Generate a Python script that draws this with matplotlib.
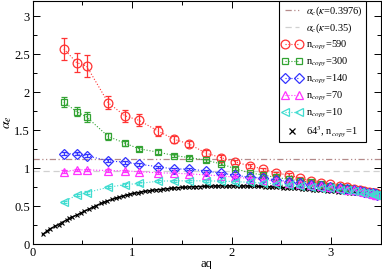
import matplotlib
matplotlib.use("Agg")
import matplotlib.pyplot as plt
from matplotlib.lines import Line2D
from matplotlib.legend_handler import HandlerLine2D
import numpy as np

plt.rcParams['font.family'] = ['Liberation Serif', 'DejaVu Serif']
plt.rcParams['mathtext.fontset'] = 'stix'

# shared momenta for the n_copy series
x_q = [0.313, 0.442, 0.542, 0.760, 0.928, 1.070, 1.260, 1.425, 1.572, 1.741,
       1.894, 2.036, 2.183, 2.320, 2.449, 2.573, 2.690, 2.802, 2.900, 2.995,
       3.087, 3.157, 3.227, 3.295, 3.337, 3.380, 3.421, 3.436, 3.450, 3.464]

y_590 = [2.57, 2.39, 2.345, 1.86, 1.69, 1.63, 1.49, 1.38, 1.32, 1.20,
         1.14, 1.085, 1.03, 0.99, 0.935, 0.913, 0.87, 0.83, 0.81, 0.79,
         0.768, 0.75, 0.733, 0.716, 0.70, 0.69, 0.68, 0.675, 0.67, 0.665]
e_590 = [0.147, 0.13, 0.147, 0.086, 0.08, 0.08, 0.06, 0.05, 0.04, 0.035,
         0.03, 0.03, 0.025, 0.02, 0.02, 0.02, 0.02, 0.015, 0.015, 0.015,
         0.015, 0.012, 0.012, 0.012, 0.01, 0.01, 0.01, 0.01, 0.01, 0.01]

y_300 = [1.87, 1.745, 1.675, 1.418, 1.33, 1.256, 1.212, 1.167, 1.141, 1.107,
         1.058, 0.995, 0.94, 0.91, 0.88, 0.855, 0.835, 0.815, 0.79, 0.77,
         0.75, 0.735, 0.72, 0.70, 0.69, 0.68, 0.67, 0.665, 0.66, 0.655]
e_300 = [0.07, 0.06, 0.06, 0.04, 0.035, 0.03, 0.03, 0.025, 0.02, 0.02,
         0.02, 0.02, 0.015, 0.015, 0.015, 0.015, 0.012, 0.012, 0.012, 0.01,
         0.01, 0.01, 0.01, 0.01, 0.01, 0.01, 0.01, 0.01, 0.01, 0.01]

y_140 = [1.19, 1.19, 1.167, 1.097, 1.08, 1.054, 1.02, 0.99, 0.99, 0.965,
         0.935, 0.91, 0.88, 0.87, 0.847, 0.825, 0.80, 0.785, 0.77, 0.755,
         0.74, 0.725, 0.71, 0.70, 0.69, 0.68, 0.67, 0.665, 0.66, 0.655]
e_140 = [0.02] * 6 + [0.015] * 24

y_70 = [0.957, 0.979, 0.979, 0.97, 0.966, 0.955, 0.94, 0.935, 0.926, 0.913,
        0.90, 0.883, 0.865, 0.85, 0.83, 0.81, 0.795, 0.78, 0.765, 0.75,
        0.735, 0.72, 0.71, 0.695, 0.685, 0.675, 0.665, 0.66, 0.655, 0.65]
e_70 = [0.015] * 30

y_10 = [0.56, 0.645, 0.68, 0.75, 0.785, 0.80, 0.83, 0.835, 0.835, 0.835,
        0.83, 0.825, 0.815, 0.805, 0.795, 0.785, 0.77, 0.76, 0.745, 0.735,
        0.72, 0.71, 0.70, 0.69, 0.68, 0.67, 0.66, 0.655, 0.65, 0.645]
e_10 = [0.015] * 30

# 64^3, n_copy = 1
x_64 = [0.10, 0.14, 0.17, 0.22, 0.26, 0.29, 0.34, 0.37, 0.40, 0.45, 0.49, 0.52,
        0.57, 0.61, 0.64, 0.69, 0.72, 0.75, 0.80, 0.84, 0.87, 0.91, 0.95, 0.98,
        1.02, 1.06, 1.09, 1.13, 1.17, 1.20, 1.24, 1.28, 1.31, 1.35, 1.39, 1.42,
        1.46, 1.50, 1.53, 1.57, 1.61, 1.64, 1.68, 1.72, 1.75, 1.79, 1.83, 1.86,
        1.90, 1.94, 1.97, 2.01, 2.05, 2.08, 2.12, 2.16, 2.19, 2.23, 2.27, 2.30,
        2.34, 2.38, 2.41, 2.45, 2.49, 2.52, 2.56, 2.60, 2.63, 2.67, 2.71, 2.74,
        2.78, 2.82, 2.85, 2.89, 2.93, 2.96, 3.00, 3.04, 3.07, 3.11, 3.15, 3.18,
        3.22, 3.25, 3.28, 3.31, 3.34, 3.37, 3.39, 3.41, 3.43, 3.44, 3.45, 3.46]
y_64 = [0.13, 0.17, 0.20, 0.235, 0.26, 0.285, 0.32, 0.34, 0.36, 0.39, 0.415, 0.435,
        0.465, 0.49, 0.51, 0.54, 0.555, 0.57, 0.59, 0.61, 0.62, 0.635, 0.65, 0.66,
        0.67, 0.68, 0.69, 0.695, 0.705, 0.71, 0.715, 0.72, 0.725, 0.73, 0.735, 0.74,
        0.745, 0.748, 0.75, 0.753, 0.756, 0.758, 0.76, 0.762, 0.764, 0.765, 0.766, 0.767,
        0.768, 0.768, 0.768, 0.768, 0.768, 0.767, 0.767, 0.766, 0.765, 0.764, 0.762, 0.761,
        0.759, 0.757, 0.755, 0.752, 0.75, 0.747, 0.744, 0.741, 0.738, 0.735, 0.731, 0.728,
        0.724, 0.72, 0.716, 0.712, 0.708, 0.704, 0.70, 0.696, 0.692, 0.688, 0.684, 0.68,
        0.676, 0.672, 0.669, 0.666, 0.663, 0.66, 0.658, 0.656, 0.654, 0.653, 0.652, 0.651]

alpha_c_3976 = 1.12
alpha_c_035 = 0.965

fig = plt.figure(figsize=(3.82, 2.69), dpi=100)
ax = fig.add_axes([0.0856, 0.0918, 0.911, 0.9045])

handles = []
h1 = ax.axhline(alpha_c_3976, color='#b48a8a', lw=0.9, ls=(0, (5, 2, 1, 2, 1, 2)),
                label=r'$\alpha_c$($\kappa$=0.3976)')
h2 = ax.axhline(alpha_c_035, color='#d0d0d0', lw=0.9, ls=(0, (5, 3)),
                label=r'$\alpha_c$($\kappa$=0.35)')
handles += [h1, h2]

series = [
    (y_590, e_590, '#ff3333', 'o', 6.3, '590'),
    (y_300, e_300, '#33a333', 's', 5.0, '300'),
    (y_140, e_140, '#3333ff', 'D', 4.6, '140'),
    (y_70, e_70, '#ff33ff', '^', 5.6, '70'),
    (y_10, e_10, '#40dcd0', '<', 5.6, '10'),
]
for y, e, c, m, ms, lab in series:
    ax.errorbar(x_q, y, yerr=e, color=c, ls=':', lw=0.8, marker=m, ms=ms,
                mfc='none', mec=c, mew=0.9, elinewidth=0.9, capsize=2.5,
                capthick=0.9)
    handles.append(Line2D([], [], color=c, ls=':', lw=0.8, marker=m, ms=ms,
                          mfc='none', mec=c, mew=0.9,
                          label=r'n$_{copy}$=' + lab))

ax.plot(x_64, y_64, color='black', lw=1.0, marker='x', ms=3.5, mew=0.8)
h64 = Line2D([], [], color='black', ls='none', marker='x', ms=4.5,
             mew=0.9, label=r'64$^3$, n$_{copy}$=1')
handles.append(h64)

ax.set_xlim(0, 3.5)
ax.set_ylim(0, 3.2)
ax.set_xticks([0, 1, 2, 3])
ax.set_xticks([0.5, 1.5, 2.5, 3.5], minor=True)
ax.set_yticks([0, 0.5, 1, 1.5, 2, 2.5, 3])
ax.set_yticklabels(['0', '0.5', '1', '1.5', '2', '2.5', '3'])
ax.set_yticks(np.arange(0.25, 3.2, 0.5), minor=True)
ax.tick_params(which='both', direction='in', top=True, right=True,
               labelsize=9, width=0.7, pad=2)
ax.tick_params(which='major', length=5)
ax.tick_params(which='minor', length=3)
for s in ax.spines.values():
    s.set_linewidth(0.8)

ax.set_xlabel('aq', fontsize=9, labelpad=-1)
ax.set_ylabel(r'$\alpha_e$', fontsize=10, labelpad=0)

leg = ax.legend(handles=handles, loc='upper right', bbox_to_anchor=(0.958, 1.0),
                borderaxespad=0, fontsize=7.5, numpoints=2, handlelength=1.9,
                handletextpad=0.4, labelspacing=0.38, fancybox=False,
                edgecolor='black', framealpha=1, borderpad=0.3,
                handler_map={h64: HandlerLine2D(numpoints=1)})
leg.get_frame().set_linewidth(0.8)

fig.savefig('out.png', dpi=100)
